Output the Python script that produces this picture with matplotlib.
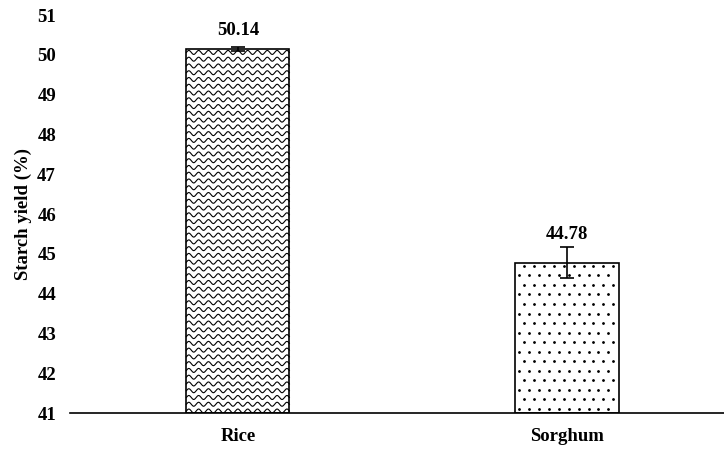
import numpy as np
import matplotlib.pyplot as plt

plt.rcParams['font.family'] = ['Liberation Serif', 'DejaVu Serif']
plt.rcParams['font.weight'] = 'bold'

crops = ['Rice', 'Sorghum']
yield_pct = [50.14, 44.78]
err = [0.05, 0.38]
labels = ['50.14', '44.78']

fig = plt.figure(figsize=(7.24, 4.5), dpi=100)
ax = fig.add_axes([0.0967, 0.0822, 0.9033, 0.8844])

x = np.arange(len(crops))
bars = ax.bar(x, [v - 41 for v in yield_pct], bottom=41, width=0.313,
              color='white', edgecolor='black', linewidth=1.2,
              yerr=err, error_kw=dict(ecolor='black', elinewidth=1.2, capsize=5, capthick=1.2))

# wavy fill for the rice bar
b = bars[0]
bx, bw = b.get_x(), b.get_width()
xs = np.linspace(bx, bx + bw, 400)
for yy in np.arange(41.05, 50.14, 0.17):
    ax.plot(xs, yy + 0.05 * np.sin((xs - bx) / bw * 2 * np.pi * 10.5),
            color='black', lw=0.8, clip_path=b, zorder=2)

# dotted fill for the sorghum bar
b = bars[1]
bx, bw = b.get_x(), b.get_width()
dy = np.arange(41.1, 44.7, 0.24)
for i, yy in enumerate(dy):
    off = 0.015 if i % 2 else 0
    dx = np.arange(bx + 0.012 + off, bx + bw - 0.008, 0.03)
    ax.plot(dx, np.full(len(dx), yy), 'o', ms=1.0, color='black', zorder=2)

for xi, v, t, e in zip(x, yield_pct, labels, err):
    ax.text(xi, v + max(e, 0.15) + 0.1, t, ha='center', va='bottom',
            fontsize=13.5, fontweight='bold')

ax.set_xlim(-0.51, 1.477)
ax.set_ylim(41, 51)
ax.set_yticks(range(41, 52))
ax.set_xticks(x)
ax.set_xticklabels(crops, fontsize=13.5, fontweight='bold')
ax.tick_params(axis='y', length=0, labelsize=13.5, pad=10)
ax.tick_params(axis='x', length=0, pad=11)
ax.set_ylabel('Starch yield (%)', fontsize=13.5, fontweight='bold')
ax.yaxis.set_label_coords(-0.058, 0.5)
for s in ['top', 'right', 'left']:
    ax.spines[s].set_visible(False)
ax.spines['bottom'].set_linewidth(1.2)

fig.savefig('out.png', dpi=100)
